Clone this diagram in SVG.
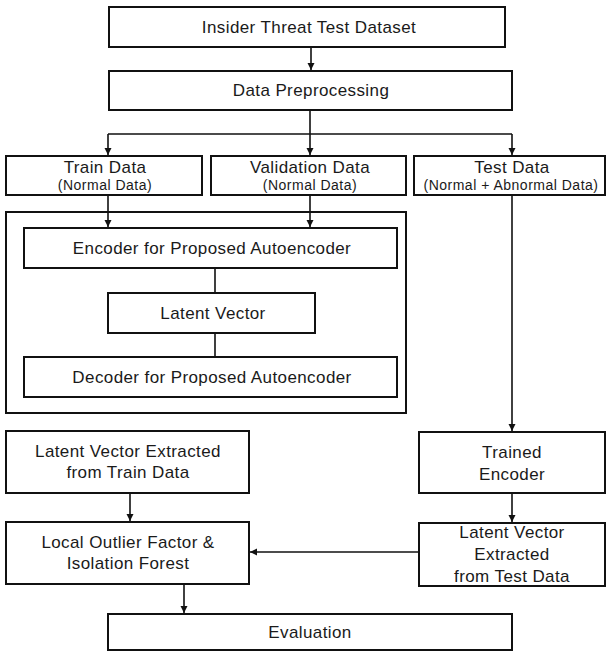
<svg xmlns="http://www.w3.org/2000/svg" width="607" height="651" viewBox="0 0 607 651">
<defs>
<marker id="ah" markerWidth="8" markerHeight="8" refX="7" refY="4" orient="auto" markerUnits="userSpaceOnUse">
<path d="M0,0.5 L7,4 L0,7.5 Z" fill="#111"/>
</marker>
<style>
.box{fill:#fff;stroke:#111;stroke-width:2}
.t{font-family:"Liberation Sans",Arial,sans-serif;font-size:17px;letter-spacing:0.4px;fill:#1a1a1a;text-anchor:middle}
.s{font-family:"Liberation Sans",Arial,sans-serif;font-size:14px;letter-spacing:0.5px;fill:#1a1a1a;text-anchor:middle}
.c{fill:none;stroke:#111;stroke-width:1.6}
</style>
</defs>
<rect width="607" height="651" fill="#fff"/>
<g id="container"><rect class="box" x="6" y="212" width="400" height="201"/></g>
<g id="connectors">
<path class="c" d="M311,47 V70" marker-end="url(#ah)"/>
<path class="c" d="M310,110 V134 M108,134 H512"/>
<path class="c" d="M108,134 V155" marker-end="url(#ah)"/>
<path class="c" d="M310,134 V155" marker-end="url(#ah)"/>
<path class="c" d="M512,134 V155" marker-end="url(#ah)"/>
<path class="c" d="M108,195 V227" marker-end="url(#ah)"/>
<path class="c" d="M310,195 V227" marker-end="url(#ah)"/>
<path class="c" d="M215,268 V293 M215,333 V357"/>
<path class="c" d="M512,195 V431" marker-end="url(#ah)"/>
<path class="c" d="M130,493 V521" marker-end="url(#ah)"/>
<path class="c" d="M512,493 V522" marker-end="url(#ah)"/>
<path class="c" d="M419,552 H250" marker-end="url(#ah)"/>
<path class="c" d="M184,584 V613" marker-end="url(#ah)"/>
</g>
<g id="dataset"><rect class="box" x="109" y="7" width="396" height="40"/><text class="t" x="309" y="33">Insider Threat Test Dataset</text></g>
<g id="preprocessing"><rect class="box" x="109" y="71" width="403" height="39"/><text class="t" x="311" y="96">Data Preprocessing</text></g>
<g id="train"><rect class="box" x="6" y="156" width="196" height="39"/><text class="t" x="105" y="173">Train Data</text><text class="s" x="105" y="190">(Normal Data)</text></g>
<g id="validation"><rect class="box" x="211" y="156" width="195" height="39"/><text class="t" x="310" y="173">Validation Data</text><text class="s" x="310" y="190">(Normal Data)</text></g>
<g id="test"><rect class="box" x="414" y="156" width="191" height="39"/><text class="t" x="512" y="173">Test Data</text><text class="s" x="511" y="190">(Normal + Abnormal Data)</text></g>
<g id="encoder"><rect class="box" x="24" y="228" width="373" height="40"/><text class="t" x="212" y="254">Encoder for Proposed Autoencoder</text></g>
<g id="latent"><rect class="box" x="108" y="293" width="207" height="40"/><text class="t" x="213" y="319">Latent Vector</text></g>
<g id="decoder"><rect class="box" x="24" y="357" width="373" height="40"/><text class="t" x="212" y="383">Decoder for Proposed Autoencoder</text></g>
<g id="latent-train"><rect class="box" x="6" y="431" width="243" height="62"/><text class="t" x="128" y="457">Latent Vector Extracted</text><text class="t" x="128" y="478">from Train Data</text></g>
<g id="trained-encoder"><rect class="box" x="419" y="432" width="186" height="61"/><text class="t" x="512" y="458">Trained</text><text class="t" x="512" y="480">Encoder</text></g>
<g id="lof"><rect class="box" x="6" y="522" width="243" height="62"/><text class="t" x="128" y="548">Local Outlier Factor &amp;</text><text class="t" x="128" y="569">Isolation Forest</text></g>
<g id="latent-test"><rect class="box" x="419" y="523" width="186" height="63"/><text class="t" x="512" y="538">Latent Vector</text><text class="t" x="512" y="560">Extracted</text><text class="t" x="512" y="582">from Test Data</text></g>
<g id="evaluation"><rect class="box" x="108" y="614" width="404" height="36"/><text class="t" x="310" y="638">Evaluation</text></g>
</svg>
